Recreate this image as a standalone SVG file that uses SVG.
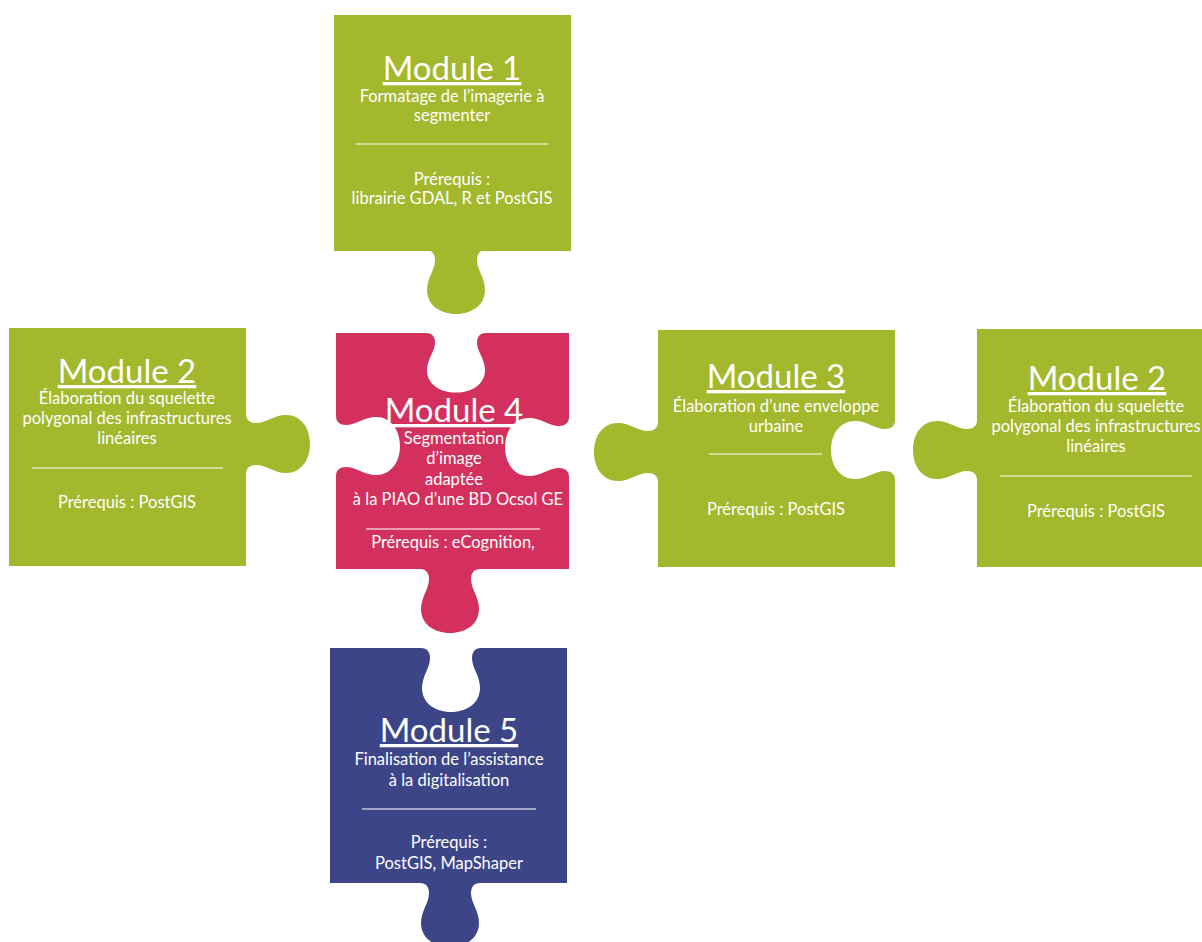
<svg xmlns="http://www.w3.org/2000/svg" xmlns:xlink="http://www.w3.org/1999/xlink" width="1202" height="942" viewBox="0 0 1202 942">
<style>
.green{fill:#a3b82c}
.pink{fill:#d4305e}
.blue{fill:#3c4588}
.hole{fill:#ffffff}
text{font-family:Lato,"Open Sans","Liberation Sans",sans-serif;fill:#ffffff;text-anchor:middle}
.title{font-size:33px;text-decoration:underline}
.sub{font-size:16.5px}
.sep{stroke:#ffffff;stroke-opacity:0.7;stroke-width:1.3}
</style>
<defs>
<path id="tab" d="M-30,-4 L-30,0 C-24,0 -21,4 -21,10 C-21,20 -29,28 -29,40 C-29,55 -16,64 0,64 C16,64 29,55 29,40 C29,28 21,20 21,10 C21,4 24,0 30,0 L30,-4 Z"/>
</defs>
<rect width="1202" height="942" fill="#ffffff"/>
<g id="connectors"/>

<g id="module1">
<rect class="green" x="334" y="15" width="237" height="236"/>
<use xlink:href="#tab" class="green" transform="translate(456,250)"/>
<text class="title" x="452" y="80">Module 1</text>
<text class="sub" x="452" y="102">Formatage de l’imagerie à</text>
<text class="sub" x="452" y="121">segmenter</text>
<line class="sep" x1="356" y1="144" x2="548" y2="144"/>
<text class="sub" x="452" y="185">Prérequis :</text>
<text class="sub" x="452" y="204">librairie GDAL, R et PostGIS</text>
</g>

<g id="module2-left">
<rect class="green" x="9" y="328" width="237" height="238"/>
<use xlink:href="#tab" class="green" transform="translate(246,444) rotate(-90)"/>
<text class="title" x="127" y="383">Module 2</text>
<text class="sub" x="127" y="404">Élaboration du squelette</text>
<text class="sub" x="127" y="424">polygonal des infrastructures</text>
<text class="sub" x="127" y="444">linéaires</text>
<line class="sep" x1="32" y1="468" x2="223" y2="468"/>
<text class="sub" x="127" y="508">Prérequis : PostGIS</text>
</g>

<g id="module4">
<rect class="pink" x="336" y="333" width="233" height="236"/>
<use xlink:href="#tab" class="pink" transform="translate(450,569)"/>
<use xlink:href="#tab" class="hole" transform="translate(456,333) scale(1,0.93)"/>
<use xlink:href="#tab" class="hole" transform="translate(336,446) rotate(-90)"/>
<use xlink:href="#tab" class="hole" transform="translate(569,447) rotate(90)"/>
<text class="title" x="454" y="422">Module 4</text>
<text class="sub" x="454" y="444">Segmentation</text>
<text class="sub" x="454" y="464">d’image</text>
<text class="sub" x="454" y="485">adaptée</text>
<text class="sub" x="458" y="505">à la PIAO d’une BD Ocsol GE</text>
<line class="sep" x1="366" y1="529" x2="540" y2="529"/>
<text class="sub" x="453" y="548">Prérequis : eCognition,</text>
</g>

<g id="module3">
<rect class="green" x="658" y="330" width="237" height="237"/>
<use xlink:href="#tab" class="green" transform="translate(658,452) rotate(90)"/>
<use xlink:href="#tab" class="hole" transform="translate(895,450) rotate(90)"/>
<text class="title" x="776" y="388">Module 3</text>
<text class="sub" x="776" y="412">Élaboration d’une enveloppe</text>
<text class="sub" x="776" y="432">urbaine</text>
<line class="sep" x1="709" y1="454" x2="822" y2="454"/>
<text class="sub" x="776" y="515">Prérequis : PostGIS</text>
</g>

<g id="module2-right">
<rect class="green" x="977" y="329" width="230" height="238"/>
<use xlink:href="#tab" class="green" transform="translate(977,450) rotate(90)"/>
<text class="title" x="1097" y="390">Module 2</text>
<text class="sub" x="1096" y="412">Élaboration du squelette</text>
<text class="sub" x="1096" y="432">polygonal des infrastructures</text>
<text class="sub" x="1096" y="452">linéaires</text>
<line class="sep" x1="1000" y1="476" x2="1192" y2="476"/>
<text class="sub" x="1096" y="517">Prérequis : PostGIS</text>
</g>

<g id="module5">
<rect class="blue" x="330" y="648" width="237" height="235"/>
<use xlink:href="#tab" class="blue" transform="translate(450,883)"/>
<use xlink:href="#tab" class="hole" transform="translate(451,648)"/>
<text class="title" x="449" y="742">Module 5</text>
<text class="sub" x="449" y="765">Finalisation de l’assistance</text>
<text class="sub" x="449" y="786">à la digitalisation</text>
<line class="sep" x1="362" y1="809" x2="536" y2="809"/>
<text class="sub" x="449" y="848">Prérequis :</text>
<text class="sub" x="449" y="869">PostGIS, MapShaper</text>
</g>
</svg>
